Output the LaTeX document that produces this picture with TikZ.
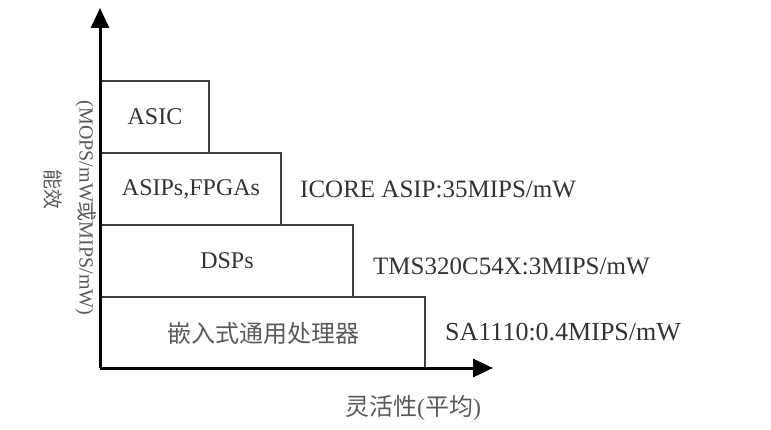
\documentclass[tikz,border=0pt]{standalone}
\usepackage{fontspec}
\setmainfont{Liberation Serif}
\newfontfamily\cjk{Noto Sans CJK SC}
\usetikzlibrary{arrows.meta}
\definecolor{txt}{HTML}{333333}
\definecolor{cjktxt}{HTML}{5A5A5A}
\definecolor{edge}{HTML}{404040}
\tikzset{
  box/.style={draw=edge, line width=2pt, anchor=north west, inner sep=0pt,
    text=txt, font=\fontsize{24}{28}\selectfont},
  lab/.style={anchor=west, inner sep=0pt, text=txt, font=\fontsize{25}{28}\selectfont},
  axis/.style={line width=3pt, black, -{Triangle[length=20pt,width=18pt]}}
}
\begin{document}
\begin{tikzpicture}[x=1pt,y=-1pt]
\useasboundingbox (0,0) rectangle (771,430);
% boxes
\node[box, minimum width=324pt, minimum height=72pt] (emb) at (100,296) {\cjk\color{cjktxt}嵌入式通用处理器};
\node[box, minimum width=252pt, minimum height=72pt] (dsp) at (100,224) {DSPs};
\node[box, minimum width=180pt, minimum height=72pt] (asip) at (100,152) {ASIPs,FPGAs};
\node[box, minimum width=108pt, minimum height=72pt] (asic) at (100,80) {ASIC};
% axes
\coordinate (o) at (100,368);
\coordinate (ytip) at (100,8);
\coordinate (xtip) at (493,368);
\draw[axis] (o) -- (ytip);
\draw[axis] (o) -- (xtip);
% right labels
\node[lab] (l1) at (300,189) {ICORE ASIP:35MIPS/mW};
\node[lab] (l2) at (373,266) {TMS320C54X:3MIPS/mW};
\node[lab, font=\fontsize{26}{28}\selectfont] (l3) at (445,332) {SA1110:0.4MIPS/mW};
% axis labels
\node[inner sep=0pt, text=cjktxt, font=\fontsize{24}{28}\selectfont] (xl) at (413,408) {{\cjk 灵活性}({\cjk 平均})};
\node[inner sep=0pt, text=cjktxt, rotate=-90, font=\fontsize{20}{22}\selectfont] (yl1) at (86,208) {(MOPS/mW{\cjk 或}MIPS/mW)};
\node[inner sep=0pt, text=cjktxt, rotate=-90, font=\fontsize{20}{22}\selectfont\cjk] (yl2) at (53,190) {能效};
\end{tikzpicture}
\end{document}
